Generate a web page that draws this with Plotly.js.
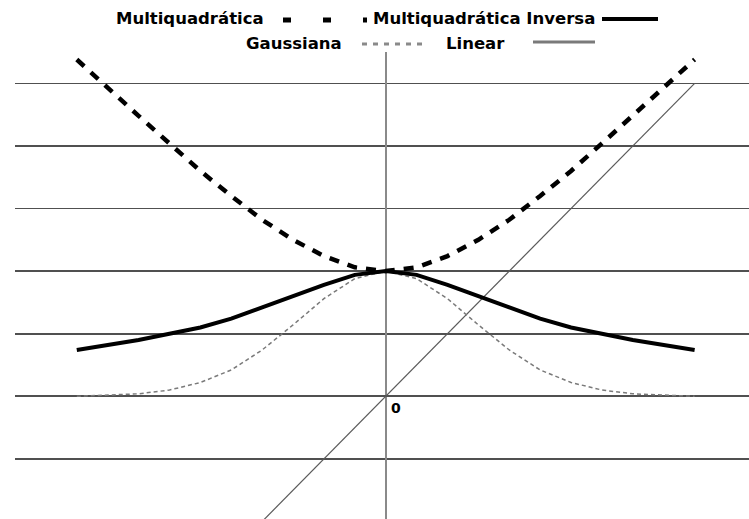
<!DOCTYPE html>
<html>
<head>
<meta charset="utf-8">
<script src="https://cdn.plot.ly/plotly-3.0.1.min.js"></script>
<style>
  html, body { margin: 0; padding: 0; background: #ffffff; }
  #chart { width: 749px; height: 519px; }
</style>
</head>
<body>
<div id="chart"></div>
<script>
// Sample positions (step 0.25)
const xs = [-2.5, -2.25, -2, -1.75, -1.5, -1.25, -1, -0.75, -0.5, -0.25, 0,
            0.25, 0.5, 0.75, 1, 1.25, 1.5, 1.75, 2, 2.25, 2.5];

// Radial basis function values
const multiquadratica = [2.69, 2.46, 2.24, 2.02, 1.80, 1.60, 1.41, 1.25, 1.12, 1.03, 1.00,
                         1.03, 1.12, 1.25, 1.41, 1.60, 1.80, 2.02, 2.24, 2.46, 2.69];
const multiquadraticaInversa = [0.37, 0.41, 0.45, 0.50, 0.55, 0.62, 0.71, 0.80, 0.89, 0.97, 1.00,
                                0.97, 0.89, 0.80, 0.71, 0.62, 0.55, 0.50, 0.45, 0.41, 0.37];
const gaussiana = [0.00, 0.01, 0.02, 0.05, 0.11, 0.21, 0.37, 0.57, 0.78, 0.94, 1.00,
                   0.94, 0.78, 0.57, 0.37, 0.21, 0.11, 0.05, 0.02, 0.01, 0.00];
const linear = [-2.5, -2.25, -2, -1.75, -1.5, -1.25, -1, -0.75, -0.5, -0.25, 0,
                0.25, 0.5, 0.75, 1, 1.25, 1.5, 1.75, 2, 2.25, 2.5];

const seriesNames = ['Multiquadrática', 'Multiquadrática Inversa', 'Gaussiana', 'Linear'];
const originLabel = '0';

const W = 749, H = 519;
const M = { l: 15, r: 0, t: 52, b: 0 };
// pixel -> paper helpers for the hand-placed legend
const px = v => (v - M.l) / (W - M.l - M.r);
const py = v => (H - M.b - v) / (H - M.t - M.b);

const legendFont = { family: 'DejaVu Sans', size: 16.5, color: '#000000', weight: 'bold' };

const traces = [
  { x: xs, y: linear, name: seriesNames[3], mode: 'lines',
    line: { color: '#5a5a5a', width: 1.2 } },
  { x: xs, y: gaussiana, name: seriesNames[2], mode: 'lines',
    line: { color: '#7a7a7a', width: 1.5, dash: '4px,3px' } },
  { x: xs, y: multiquadraticaInversa, name: seriesNames[1], mode: 'lines',
    line: { color: '#000000', width: 4 } },
  { x: xs, y: multiquadratica, name: seriesNames[0], mode: 'lines',
    line: { color: '#000000', width: 4.5, dash: '10px,9px' } }
];

const layout = {
  width: W, height: H,
  margin: M,
  paper_bgcolor: '#ffffff',
  plot_bgcolor: '#ffffff',
  showlegend: false,
  xaxis: {
    range: [-3.0, 2.94],
    showgrid: false,
    showticklabels: false,
    ticks: '',
    showline: false,
    zeroline: true,
    zerolinecolor: '#8a8a8a',
    zerolinewidth: 2
  },
  yaxis: {
    range: [-0.98, 2.75],
    dtick: 0.5,
    tick0: 0,
    showgrid: true,
    gridcolor: '#505050',
    gridwidth: 1.6,
    showticklabels: false,
    ticks: '',
    showline: false,
    zeroline: true,
    zerolinecolor: '#505050',
    zerolinewidth: 1.6
  },
  annotations: [
    { x: 0, y: 0, xref: 'x', yref: 'y', text: originLabel, showarrow: false,
      xanchor: 'center', yanchor: 'middle', xshift: 10, yshift: -12,
      font: { family: 'DejaVu Sans', size: 14, color: '#000000', weight: 'bold' } },
    { x: px(190), y: py(19), xref: 'paper', yref: 'paper', text: seriesNames[0],
      showarrow: false, xanchor: 'center', yanchor: 'middle', font: legendFont },
    { x: px(371), y: py(19), xref: 'paper', yref: 'paper', text: seriesNames[1],
      showarrow: false, xanchor: 'left', yanchor: 'middle', font: legendFont },
    { x: px(294), y: py(43), xref: 'paper', yref: 'paper', text: seriesNames[2],
      showarrow: false, xanchor: 'center', yanchor: 'middle', font: legendFont },
    { x: px(475), y: py(43), xref: 'paper', yref: 'paper', text: seriesNames[3],
      showarrow: false, xanchor: 'center', yanchor: 'middle', font: legendFont }
  ],
  shapes: [
    { type: 'line', xref: 'paper', yref: 'paper', x0: px(283), x1: px(367), y0: py(20), y1: py(20),
      line: { color: '#000000', width: 5, dash: '8px,32px' } },
    { type: 'line', xref: 'paper', yref: 'paper', x0: px(602), x1: px(658), y0: py(19), y1: py(19),
      line: { color: '#000000', width: 4 } },
    { type: 'line', xref: 'paper', yref: 'paper', x0: px(362), x1: px(428), y0: py(44), y1: py(44),
      line: { color: '#8a8a8a', width: 3, dash: '5px,6px' } },
    { type: 'line', xref: 'paper', yref: 'paper', x0: px(533), x1: px(595), y0: py(42), y1: py(42),
      line: { color: '#7a7a7a', width: 3 } }
  ]
};

Plotly.newPlot('chart', traces, layout, { staticPlot: true, displayModeBar: false });
</script>
</body>
</html>
